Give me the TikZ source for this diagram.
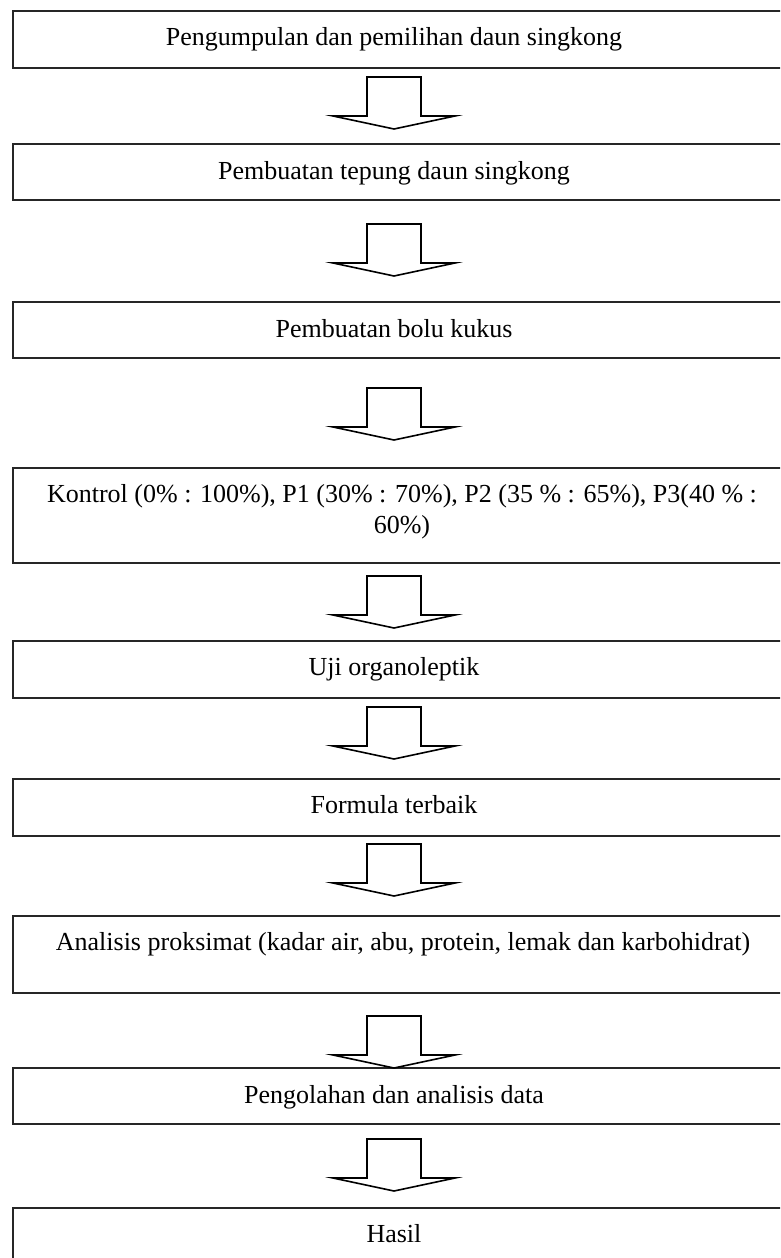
\documentclass[tikz,border=0pt]{standalone}
\usepackage{fontspec}
\setmainfont{Liberation Serif}
\begin{document}
\begin{tikzpicture}[x=1pt,y=-1pt,
  box/.style={draw=black!85, line width=1.7pt, rectangle, minimum width=790pt, inner sep=0pt},
  lbl/.style={font=\fontsize{26}{31}\selectfont, inner sep=0pt, anchor=base},
  arrowline/.style={draw=black, line width=1.6pt, fill=white, line join=miter},
  bigarrow/.pic={\draw[arrowline] (-27,0) -- (-27,39) -- (-61,39) -- (0,52) -- (61,39) -- (27,39) -- (27,0) -- cycle;}
]
\useasboundingbox (0,0) rectangle (780,1258);
\clip (0,0) rectangle (780,1258);

% boxes
\node[box, minimum height=57pt] (b1) at (408,39.5) {};
\node[box, minimum height=56pt] (b2) at (408,172) {};
\node[box, minimum height=56pt] (b3) at (408,330) {};
\node[box, minimum height=95pt] (b4) at (408,515.5) {};
\node[box, minimum height=57pt] (b5) at (408,669.5) {};
\node[box, minimum height=57pt] (b6) at (408,807.5) {};
\node[box, minimum height=77pt] (b7) at (408,954.5) {};
\node[box, minimum height=56pt] (b8) at (408,1096) {};
\node[box, minimum height=70pt] (b9) at (408,1243) {};

% texts
\node[lbl] (t1) at (394,45) {Pengumpulan dan pemilihan daun singkong};
\node[lbl] (t2) at (394,179) {Pembuatan tepung daun singkong};
\node[lbl] (t3) at (394,337) {Pembuatan bolu kukus};
\node[lbl, anchor=north, align=center] (t4) at (402,484) {Kontrol (0\% : 100\%), P1 (30\% : 70\%), P2 (35 \% : 65\%), P3(40 \% :\\60\%)};
\node[lbl] (t5) at (394,675) {Uji organoleptik};
\node[lbl] (t6) at (394,813) {Formula terbaik};
\node[lbl] (t7) at (403,950) {Analisis proksimat (kadar air, abu, protein, lemak dan karbohidrat)};
\node[lbl] (t8) at (394,1103) {Pengolahan dan analisis data};
\node[lbl] (t9) at (394,1242) {Hasil};

% block arrows
\pic at (394,77) {bigarrow};
\pic at (394,224) {bigarrow};
\pic at (394,388) {bigarrow};
\pic at (394,576) {bigarrow};
\pic at (394,707) {bigarrow};
\pic at (394,844) {bigarrow};
\pic at (394,1016) {bigarrow};
\pic at (394,1139) {bigarrow};
\end{tikzpicture}
\end{document}
